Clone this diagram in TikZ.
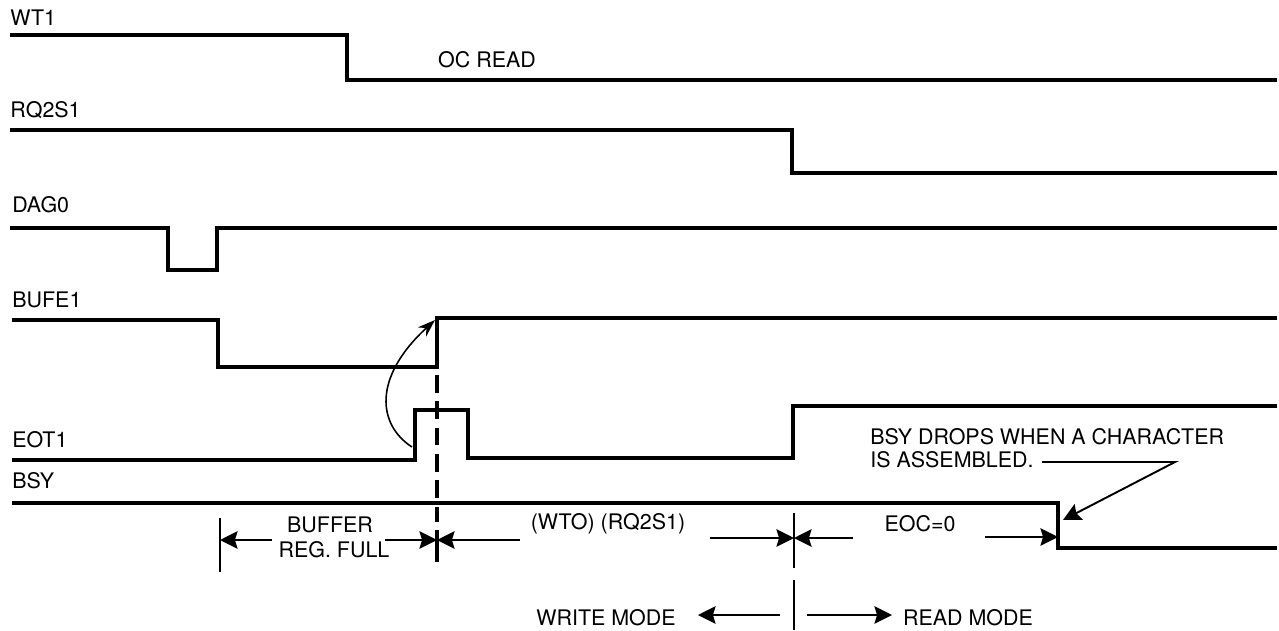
\documentclass[tikz,border=0pt]{standalone}
\usepackage{fontspec}
\setmainfont{TeX Gyre Heros}
\usetikzlibrary{arrows.meta}

\tikzset{
	sig/.style={line width=1.8pt, line join=miter},
	dimln/.style={line width=1.1pt},
	dimarr/.style={line width=1.1pt, -{Stealth[length=10pt, width=10pt, inset=1.5pt]}},
	lbl/.style={font=\fontsize{12.2}{14}\selectfont, inner sep=0pt},
}

\begin{document}
\begin{tikzpicture}[x=0.02cm, y=-0.02cm]
			%%%%% START %%%%%
			\useasboundingbox (0,0) rectangle (1279,630);
			
			% signal names
			\node[lbl, anchor=west] (wt) at (10,18) {WT1};
			\node[lbl, anchor=west] (rq) at (10,110) {RQ2S1};
			\node[lbl, anchor=west] (dag) at (12,205) {DAG0};
			\node[lbl, anchor=west] (bufe) at (12,300) {BUFE1};
			\node[lbl, anchor=west] (eot) at (12,440) {EOT1};
			\node[lbl, anchor=west] (bsy) at (12,481) {BSY};
			
			% waveforms
			\draw[sig] (10,35) -- (347,35) -- (347,80) -- (1277,80);
			\node[lbl] (ocread) at (487,60) {OC READ};
			\draw[sig] (10,130) -- (792,130) -- (792,173) -- (1277,173);
			\draw[sig] (10,228) -- (168,228) -- (168,270) -- (217,270) -- (217,228) -- (1277,228);
			\draw[sig] (12,320) -- (218,320) -- (218,367) -- (437,367) -- (437,318) -- (1277,318);
			\draw[sig] (12,460) -- (415,460) -- (415,410) -- (468,410) -- (468,458) -- (793,458) -- (793,406) -- (1277,406);
			\draw[sig] (12,503) -- (1058,503) -- (1058,548) -- (1277,548);
			
			% EOT1 sets BUFE1
			\coordinate (eotup) at (412,447);
			\coordinate (bufup) at (435,320);
			\draw[line width=0.9pt, -{Stealth[length=10pt, width=7pt]}] (eotup) .. controls (378,425) and (372,378) .. (bufup);
			\draw[line width=1.8pt, dash pattern=on 10pt off 5pt] (437,375) -- (437,522);
			
			% time marks
			\coordinate (d1) at (220,540);
			\coordinate (d2) at (437,540);
			\coordinate (d3) at (794,538);
			\coordinate (d4) at (1058,537);
			\coordinate (m) at (794,615);
			\draw[dimln] (220,518) -- (220,572);
			\draw[line width=1.8pt] (437,530) -- (437,562);
			\draw[dimln] (794,513) -- (794,568);
			\draw[dimln] (794,580) -- (794,630);
			
			\node[lbl] (buf) at (330,525) {BUFFER};
			\node[lbl] (reg) at (334,550) {REG. FULL};
			\draw[dimarr] (d1) ++(52,0) -- (d1);
			\draw[dimarr] (d2) ++(-52,0) -- (d2);
			
			\node[lbl] (wto) at (608,524) {(WTO) (RQ2S1)};
			\draw[dimarr] (d2) ++(83,0) -- (d2);
			\draw[dimarr] (d3) ++(-84,0) -- (d3);
			
			\node[lbl] (eoc) at (920,524) {EOC=0};
			\draw[dimarr] (d3) ++(59,0) -- (d3);
			\draw[dimarr] (d4) ++(-73,0) -- (d4);
			
			% modes
			\node[lbl] (wmode) at (606,618) {WRITE MODE};
			\node[lbl] (rmode) at (968,618) {READ MODE};
			\draw[dimarr] (m) ++(-14,0) -- ++(-82,0);
			\draw[dimarr] (m) ++(13,0) -- ++(85,0);
			
			% note on BSY
			\node[lbl, anchor=west] (note1) at (870,437) {BSY DROPS WHEN A CHARACTER};
			\node[lbl, anchor=west] (note2) at (870,460) {IS ASSEMBLED.};
			\coordinate (lead) at (1042,462);
			\coordinate (bend) at (1175,462);
			\coordinate (drop) at (1063,520);
			\draw[dimarr] (lead) -- (bend) -- (drop);
			
			%%%%% END %%%%%
\end{tikzpicture}
\end{document}
